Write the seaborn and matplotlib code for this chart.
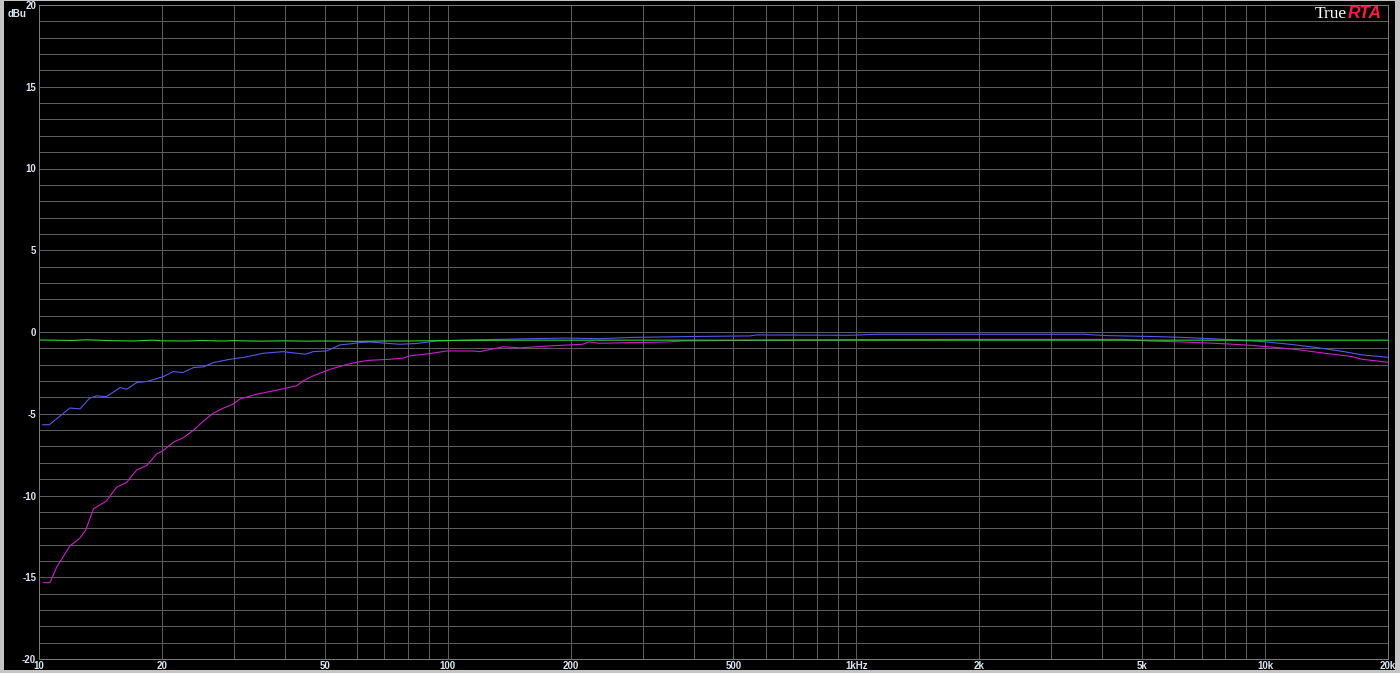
import numpy as np
import pandas as pd
import seaborn as sns
import matplotlib
matplotlib.use("Agg")
import matplotlib.pyplot as plt
from matplotlib.patches import Rectangle

# ---- data ----
green_freq = [10, 11, 12, 13, 14, 15, 17, 19, 20, 23, 25, 28, 30, 35, 40, 45, 50, 60, 70, 80,
              100, 150, 200, 500, 1000, 2000, 5000, 10000, 20000]
green_db = [-0.49, -0.5, -0.52, -0.48, -0.5, -0.53, -0.55, -0.5, -0.54, -0.55, -0.52, -0.55, -0.53,
            -0.56, -0.54, -0.56, -0.55, -0.57, -0.55, -0.55, -0.52, -0.5, -0.5, -0.5, -0.5, -0.5,
            -0.5, -0.5, -0.5]

blue_freq = [10.2, 10.6, 11.9, 12.6, 13.3, 13.85, 14.6, 15.8, 16.4, 17.35, 18.35, 20.1, 21.3, 22.5,
             23.9, 25.3, 26.7, 29.3, 32.2, 35.4, 39.6, 42.7, 44.8, 46.9, 50.5, 54.5, 58, 61, 64.5,
             70, 76.4, 84, 94, 111, 134, 161, 195, 235, 284, 343, 414, 549, 570, 966, 1120, 3600,
             4100, 5400, 6300, 7400, 8400, 9900, 11500, 13400, 15600, 17300, 20000]
blue_db = [-5.67, -5.67, -4.65, -4.7, -4.05, -3.9, -3.96, -3.4, -3.5, -3.09, -3.03, -2.74, -2.42,
           -2.48, -2.17, -2.13, -1.87, -1.67, -1.52, -1.3, -1.2, -1.3, -1.36, -1.2, -1.16, -0.79,
           -0.72, -0.65, -0.61, -0.68, -0.75, -0.7, -0.55, -0.49, -0.45, -0.41, -0.37, -0.41,
           -0.33, -0.3, -0.27, -0.24, -0.18, -0.2, -0.14, -0.14, -0.22, -0.28, -0.33, -0.41,
           -0.49, -0.59, -0.75, -0.95, -1.2, -1.4, -1.55]

magenta_freq = [10.24, 10.64, 11.05, 11.9, 12.6, 13.0, 13.6, 14.6, 15.5, 16.4, 17.35, 18.35, 19.4,
                20.1, 21.3, 22.5, 23.9, 25.3, 26.7, 28.3, 29.9, 31.0, 34.1, 37.5, 42.7, 44.3, 46.9,
                51.6, 56.9, 61.1, 64.5, 72, 77.6, 80.8, 90.5, 99.5, 115, 120, 137, 150, 178, 214,
                222, 235, 284, 343, 376, 549, 1000, 2000, 4500, 5200, 6300, 7200, 8100, 9200,
                10700, 12200, 14000, 16300, 17300, 20000]
magenta_db = [-15.33, -15.33, -14.37, -13.09, -12.6, -12.13, -10.81, -10.35, -9.49, -9.19, -8.43,
              -8.17, -7.46, -7.26, -6.75, -6.48, -6.0, -5.43, -4.96, -4.65, -4.41, -4.1, -3.8,
              -3.6, -3.29, -2.99, -2.68, -2.28, -1.97, -1.81, -1.73, -1.67, -1.6, -1.46, -1.32,
              -1.16, -1.16, -1.2, -0.9, -0.97, -0.85, -0.75, -0.6, -0.69, -0.65, -0.61, -0.55,
              -0.51, -0.47, -0.45, -0.45, -0.55, -0.61, -0.67, -0.73, -0.81, -0.95, -1.1, -1.3,
              -1.5, -1.67, -1.85]

x_tick_values = [10, 20, 50, 100, 200, 500, 1000, 2000, 5000, 10000, 20000]
x_tick_labels = ["10", "20", "50", "100", "200", "500", "1kHz", "2k", "5k", "10k", "20k"]
y_tick_values = [20, 15, 10, 5, 0, -5, -10, -15, -20]

series_names = ["magenta", "blue", "green"]
series_colors = {"magenta": "#d11ad1", "blue": "#5656f0", "green": "#2ed62e"}

frames = []
for name, f, d in [("magenta", magenta_freq, magenta_db),
                   ("blue", blue_freq, blue_db),
                   ("green", green_freq, green_db)]:
    frames.append(pd.DataFrame({"freq": f, "db": d, "series": name}))
df = pd.concat(frames, ignore_index=True)

# ---- figure ----
sns.set_style("dark")
plt.rcParams["font.family"] = ["Liberation Sans", "DejaVu Sans"]

W, H = 1400, 673
fig = plt.figure(figsize=(W / 100, H / 100), dpi=100)
fig.patch.set_facecolor("#c4c4c4")
fig.add_artist(Rectangle((4 / W, 3 / H), (1395 - 4) / W, (672 - 3) / H,
                         transform=fig.transFigure, facecolor="black", edgecolor="none",
                         zorder=-10))

ax = fig.add_axes([39 / W, 14 / H, (1388 - 39) / W, (668 - 14) / H])
ax.set_facecolor("black")

sns.lineplot(data=df, x="freq", y="db", hue="series", hue_order=series_names,
             palette=series_colors, sort=False, estimator=None, linewidth=0.8,
             legend=False, ax=ax)

ax.set_xscale("log")
ax.set_xlim(10, 20000)
ax.set_ylim(-20, 20)

# grid ticks: all 1..9 multiples per decade, every 1 dB
grid_x = [m * 10 ** e for e in range(1, 5) for m in range(1, 10) if m * 10 ** e <= 20000]
ax.set_xticks(grid_x)
ax.set_xticklabels([x_tick_labels[x_tick_values.index(v)] if v in x_tick_values else ""
                    for v in grid_x])
ax.xaxis.set_minor_locator(matplotlib.ticker.NullLocator())
grid_y = list(range(-20, 21))
ax.set_yticks(grid_y)
ax.set_yticklabels([str(v) if v in y_tick_values else "" for v in grid_y])

ax.grid(True, which="major", color="#5c5c5c", linewidth=0.72)
ax.tick_params(axis="both", length=0, labelsize=7, labelcolor="#dbe6f2")
ax.tick_params(axis="y", pad=2)
ax.tick_params(axis="x", pad=1.5)
for lab in ax.get_xticklabels() + ax.get_yticklabels():
    lab.set_fontweight("bold")
for s in ax.spines.values():
    s.set_color("#7a7a7a")
    s.set_linewidth(0.72)
ax.set_xlabel("")
ax.set_ylabel("")

fig.text(8 / W, 1 - 14 / H, "dBu", color="#dbe6f2", fontsize=7, fontweight="bold",
         va="center", ha="left")
fig.text(1347 / W, 1 - 14 / H, "True", color="white", fontsize=12.5,
         family=["Liberation Serif", "DejaVu Serif"], ha="right", va="center")
fig.text(1348 / W, 1 - 14 / H, "RTA", color="#ff1744", fontsize=12.5, fontweight="bold",
         fontstyle="italic", family=["Liberation Sans", "DejaVu Sans"], ha="left", va="center")

fig.savefig("out.png", dpi=100, facecolor=fig.get_facecolor())
